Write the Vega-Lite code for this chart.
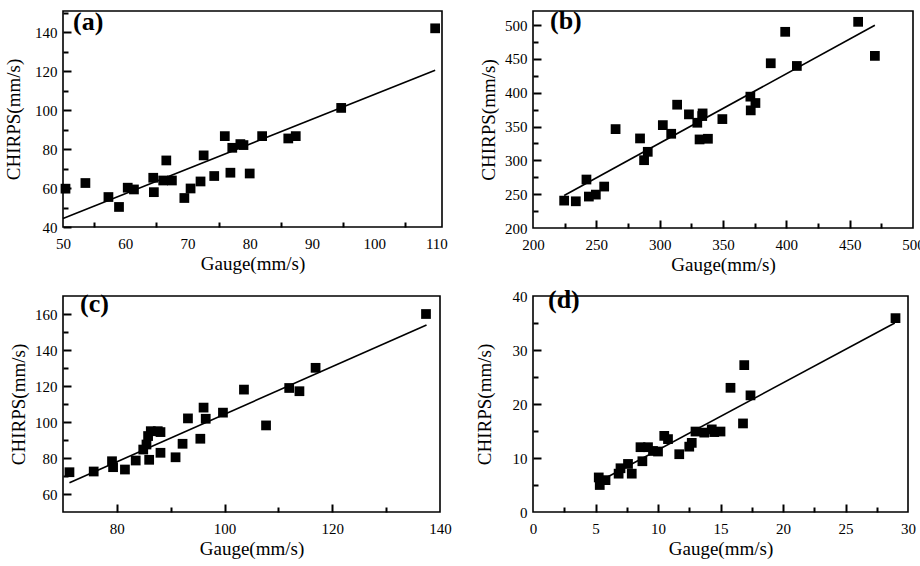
{
  "$schema": "https://vega.github.io/schema/vega-lite/v6.json",
  "padding": {"left": 3, "top": 7, "right": 5, "bottom": 2},
  "config": {
    "view": {"stroke": "black", "strokeWidth": 1.6},
    "axis": {"labelFont": "Liberation Serif", "titleFont": "Liberation Serif", "labelColor": "black", "titleColor": "black", "labelFontSize": 15, "titleFontSize": 19, "titleFontWeight": "normal", "grid": false, "labelFlush": false},
    "title": {"font": "Liberation Serif", "fontSize": 26, "fontWeight": "bold", "color": "black", "anchor": "start", "frame": "group", "offset": 0, "baseline": "alphabetic"}
  },
  "datasets": {
    "a": [
      {"gauge": 50.4, "chirps": 59.7}, {"gauge": 53.6, "chirps": 62.6}, {"gauge": 57.3, "chirps": 55.4}, {"gauge": 59.0, "chirps": 50.3},
      {"gauge": 60.4, "chirps": 60.2}, {"gauge": 61.4, "chirps": 59.3}, {"gauge": 64.5, "chirps": 65.3}, {"gauge": 64.6, "chirps": 57.9},
      {"gauge": 66.1, "chirps": 63.9}, {"gauge": 66.6, "chirps": 74.2}, {"gauge": 67.5, "chirps": 63.9}, {"gauge": 69.5, "chirps": 54.9},
      {"gauge": 70.5, "chirps": 59.8}, {"gauge": 72.1, "chirps": 63.4}, {"gauge": 72.6, "chirps": 76.8}, {"gauge": 74.3, "chirps": 66.2},
      {"gauge": 76.0, "chirps": 86.7}, {"gauge": 76.9, "chirps": 67.9}, {"gauge": 77.2, "chirps": 80.7}, {"gauge": 78.5, "chirps": 82.6},
      {"gauge": 79.0, "chirps": 82.1}, {"gauge": 80.0, "chirps": 67.5}, {"gauge": 82.0, "chirps": 86.7}, {"gauge": 86.2, "chirps": 85.5},
      {"gauge": 87.4, "chirps": 86.7}, {"gauge": 94.7, "chirps": 101.2}, {"gauge": 109.8, "chirps": 142.1}
    ],
    "a_fit": [{"gauge": 50, "chirps": 44.4}, {"gauge": 109.8, "chirps": 120.6}],
    "b": [
      {"gauge": 224.6, "chirps": 240.5}, {"gauge": 233.8, "chirps": 239.5}, {"gauge": 242.2, "chirps": 271.7}, {"gauge": 244.1, "chirps": 246.5},
      {"gauge": 249.6, "chirps": 249.4}, {"gauge": 256.2, "chirps": 261.3}, {"gauge": 265.2, "chirps": 346.3}, {"gauge": 284.5, "chirps": 332.5},
      {"gauge": 287.7, "chirps": 300.3}, {"gauge": 290.6, "chirps": 312.7}, {"gauge": 302.5, "chirps": 352.2}, {"gauge": 309.1, "chirps": 339.4},
      {"gauge": 313.8, "chirps": 382.4}, {"gauge": 323.1, "chirps": 368.1}, {"gauge": 329.7, "chirps": 355.7}, {"gauge": 331.5, "chirps": 331.0},
      {"gauge": 333.9, "chirps": 369.5}, {"gauge": 333.6, "chirps": 365.6}, {"gauge": 338.1, "chirps": 332.0}, {"gauge": 349.5, "chirps": 361.1},
      {"gauge": 371.6, "chirps": 394.3}, {"gauge": 371.9, "chirps": 374.0}, {"gauge": 375.6, "chirps": 384.9}, {"gauge": 387.7, "chirps": 443.7},
      {"gauge": 399.1, "chirps": 490.2}, {"gauge": 408.3, "chirps": 439.7}, {"gauge": 456.7, "chirps": 505.0}, {"gauge": 469.9, "chirps": 454.6}
    ],
    "b_fit": [{"gauge": 224.6, "chirps": 248}, {"gauge": 469.9, "chirps": 500}],
    "c": [
      {"gauge": 71.2, "chirps": 72.1}, {"gauge": 75.7, "chirps": 72.5}, {"gauge": 79.1, "chirps": 78.2}, {"gauge": 79.3, "chirps": 74.9},
      {"gauge": 81.5, "chirps": 73.6}, {"gauge": 83.5, "chirps": 78.6}, {"gauge": 84.9, "chirps": 84.7}, {"gauge": 85.5, "chirps": 87.5},
      {"gauge": 85.8, "chirps": 92.2}, {"gauge": 86.0, "chirps": 79.0}, {"gauge": 86.3, "chirps": 94.9}, {"gauge": 87.6, "chirps": 94.9},
      {"gauge": 88.1, "chirps": 94.4}, {"gauge": 88.1, "chirps": 82.9}, {"gauge": 90.9, "chirps": 80.4}, {"gauge": 92.2, "chirps": 87.9},
      {"gauge": 93.2, "chirps": 102.0}, {"gauge": 95.5, "chirps": 90.7}, {"gauge": 96.1, "chirps": 108.0}, {"gauge": 96.5, "chirps": 101.8},
      {"gauge": 99.7, "chirps": 105.2}, {"gauge": 103.6, "chirps": 118.0}, {"gauge": 107.7, "chirps": 98.1}, {"gauge": 112.0, "chirps": 118.9},
      {"gauge": 113.9, "chirps": 117.1}, {"gauge": 116.9, "chirps": 130.1}, {"gauge": 137.4, "chirps": 160.0}
    ],
    "c_fit": [{"gauge": 71.2, "chirps": 66.3}, {"gauge": 137.5, "chirps": 153.9}],
    "d": [
      {"gauge": 5.26, "chirps": 6.4}, {"gauge": 5.34, "chirps": 5.0}, {"gauge": 5.8, "chirps": 5.9}, {"gauge": 6.85, "chirps": 7.1},
      {"gauge": 7.0, "chirps": 8.1}, {"gauge": 7.6, "chirps": 8.9}, {"gauge": 7.9, "chirps": 7.1}, {"gauge": 8.6, "chirps": 12.0},
      {"gauge": 8.75, "chirps": 9.4}, {"gauge": 9.2, "chirps": 12.0}, {"gauge": 9.6, "chirps": 11.3}, {"gauge": 10.0, "chirps": 11.2},
      {"gauge": 10.5, "chirps": 14.1}, {"gauge": 10.8, "chirps": 13.5}, {"gauge": 11.7, "chirps": 10.7}, {"gauge": 12.5, "chirps": 12.1},
      {"gauge": 12.7, "chirps": 12.8}, {"gauge": 13.0, "chirps": 14.9}, {"gauge": 13.7, "chirps": 14.7}, {"gauge": 14.3, "chirps": 15.3},
      {"gauge": 14.5, "chirps": 14.8}, {"gauge": 15.0, "chirps": 14.9}, {"gauge": 15.8, "chirps": 23.0}, {"gauge": 16.8, "chirps": 16.4},
      {"gauge": 16.9, "chirps": 27.2}, {"gauge": 17.4, "chirps": 21.6}, {"gauge": 29.0, "chirps": 35.9}
    ],
    "d_fit": [{"gauge": 5.4, "chirps": 5.8}, {"gauge": 28.94, "chirps": 35.0}]
  },
  "columns": 2,
  "spacing": {"row": 11, "column": 21},
  "concat": [
    {
      "width": 379, "height": 216,
      "title": {"text": "(a)", "dx": 10, "dy": 28},
      "resolve": {"axis": {"x": "independent", "y": "independent"}},
      "layer": [
        {
          "data": {"name": "a"},
          "mark": {"type": "square", "filled": true, "color": "black", "size": 95, "opacity": 1},
          "encoding": {
            "x": {"field": "gauge", "type": "quantitative", "scale": {"domain": [50, 110.9], "nice": false, "zero": false},
                  "axis": {"orient": "bottom", "values": [50, 60, 70, 80, 90, 100, 110], "ticks": false, "domain": false, "labelPadding": 9, "title": "Gauge(mm/s)", "titlePadding": 3}},
            "y": {"field": "chirps", "type": "quantitative", "scale": {"domain": [40, 151], "nice": false, "zero": false},
                  "axis": {"orient": "left", "values": [40, 60, 80, 100, 120, 140], "ticks": false, "domain": false, "labelPadding": 6, "title": "CHIRPS(mm/s)", "titlePadding": 11}}
          }
        },
        {
          "data": {"name": "a_fit"},
          "mark": {"type": "line", "color": "black", "strokeWidth": 1.6},
          "encoding": {
            "x": {"field": "gauge", "type": "quantitative", "axis": {"orient": "top", "offset": -216, "values": [55, 65, 75, 85, 95, 105], "tickSize": 5, "tickColor": "black", "tickWidth": 2, "domain": false, "labels": false, "title": null}},
            "y": {"field": "chirps", "type": "quantitative", "axis": {"orient": "right", "offset": -379, "values": [40, 60, 80, 100, 120, 140], "tickSize": 8, "tickColor": "black", "tickWidth": 2, "domain": false, "labels": false, "title": null}}
          }
        },
        {
          "data": {"name": "a_fit"},
          "mark": {"type": "line", "opacity": 0},
          "encoding": {
            "x": {"field": "gauge", "type": "quantitative", "axis": null},
            "y": {"field": "chirps", "type": "quantitative", "axis": {"orient": "right", "offset": -379, "values": [50, 70, 90, 110, 130, 150], "tickSize": 5, "tickColor": "black", "tickWidth": 2, "domain": false, "labels": false, "title": null}}
          }
        }
      ]
    },
    {
      "width": 380, "height": 217,
      "title": {"text": "(b)", "dx": 17, "dy": 27},
      "resolve": {"axis": {"x": "independent", "y": "independent"}},
      "layer": [
        {
          "data": {"name": "b"},
          "mark": {"type": "square", "filled": true, "color": "black", "size": 95, "opacity": 1},
          "encoding": {
            "x": {"field": "gauge", "type": "quantitative", "scale": {"domain": [200, 500], "nice": false, "zero": false},
                  "axis": {"orient": "bottom", "values": [200, 250, 300, 350, 400, 450, 500], "ticks": false, "domain": false, "labelPadding": 9, "title": "Gauge(mm/s)", "titlePadding": 3}},
            "y": {"field": "chirps", "type": "quantitative", "scale": {"domain": [200, 521], "nice": false, "zero": false},
                  "axis": {"orient": "left", "values": [200, 250, 300, 350, 400, 450, 500], "ticks": false, "domain": false, "labelPadding": 6, "title": "CHIRPS(mm/s)", "titlePadding": 6}}
          }
        },
        {
          "data": {"name": "b_fit"},
          "mark": {"type": "line", "color": "black", "strokeWidth": 1.6},
          "encoding": {
            "x": {"field": "gauge", "type": "quantitative", "axis": {"orient": "top", "offset": -217, "values": [250, 300, 350, 400, 450], "tickSize": 8, "tickColor": "black", "tickWidth": 2, "domain": false, "labels": false, "title": null}},
            "y": {"field": "chirps", "type": "quantitative", "axis": {"orient": "right", "offset": -380, "values": [250, 300, 350, 400, 450, 500], "tickSize": 8, "tickColor": "black", "tickWidth": 2, "domain": false, "labels": false, "title": null}}
          }
        },
        {
          "data": {"name": "b_fit"},
          "mark": {"type": "line", "opacity": 0},
          "encoding": {
            "x": {"field": "gauge", "type": "quantitative", "axis": {"orient": "top", "offset": -217, "values": [225, 275, 325, 375, 425, 475], "tickSize": 5, "tickColor": "black", "tickWidth": 2, "domain": false, "labels": false, "title": null}},
            "y": {"field": "chirps", "type": "quantitative", "axis": {"orient": "right", "offset": -380, "values": [225, 275, 325, 375, 425, 475], "tickSize": 5, "tickColor": "black", "tickWidth": 2, "domain": false, "labels": false, "title": null}}
          }
        }
      ]
    },
    {
      "width": 377, "height": 216,
      "title": {"text": "(c)", "dx": 17, "dy": 25},
      "resolve": {"axis": {"x": "independent", "y": "independent"}},
      "layer": [
        {
          "data": {"name": "c"},
          "mark": {"type": "square", "filled": true, "color": "black", "size": 95, "opacity": 1},
          "encoding": {
            "x": {"field": "gauge", "type": "quantitative", "scale": {"domain": [70, 140], "nice": false, "zero": false},
                  "axis": {"orient": "bottom", "values": [80, 100, 120, 140], "ticks": false, "domain": false, "labelPadding": 9, "title": "Gauge(mm/s)", "titlePadding": 3}},
            "y": {"field": "chirps", "type": "quantitative", "scale": {"domain": [50, 170], "nice": false, "zero": false},
                  "axis": {"orient": "left", "values": [60, 80, 100, 120, 140, 160], "ticks": false, "domain": false, "labelPadding": 6, "title": "CHIRPS(mm/s)", "titlePadding": 6}}
          }
        },
        {
          "data": {"name": "c_fit"},
          "mark": {"type": "line", "color": "black", "strokeWidth": 1.6},
          "encoding": {
            "x": {"field": "gauge", "type": "quantitative", "axis": {"orient": "top", "offset": -216, "values": [80, 100, 120], "tickSize": 8, "tickColor": "black", "tickWidth": 2, "domain": false, "labels": false, "title": null}},
            "y": {"field": "chirps", "type": "quantitative", "axis": {"orient": "right", "offset": -377, "values": [60, 80, 100, 120, 140, 160], "tickSize": 8, "tickColor": "black", "tickWidth": 2, "domain": false, "labels": false, "title": null}}
          }
        },
        {
          "data": {"name": "c_fit"},
          "mark": {"type": "line", "opacity": 0},
          "encoding": {
            "x": {"field": "gauge", "type": "quantitative", "axis": {"orient": "top", "offset": -216, "values": [90, 110, 130], "tickSize": 5, "tickColor": "black", "tickWidth": 2, "domain": false, "labels": false, "title": null}},
            "y": {"field": "chirps", "type": "quantitative", "axis": {"orient": "right", "offset": -377, "values": [70, 90, 110, 130, 150], "tickSize": 5, "tickColor": "black", "tickWidth": 2, "domain": false, "labels": false, "title": null}}
          }
        }
      ]
    },
    {
      "width": 375, "height": 216,
      "title": {"text": "(d)", "dx": 15, "dy": 28},
      "resolve": {"axis": {"x": "independent", "y": "independent"}},
      "layer": [
        {
          "data": {"name": "d"},
          "mark": {"type": "square", "filled": true, "color": "black", "size": 95, "opacity": 1},
          "encoding": {
            "x": {"field": "gauge", "type": "quantitative", "scale": {"domain": [0, 30], "nice": false, "zero": false},
                  "axis": {"orient": "bottom", "values": [0, 5, 10, 15, 20, 25, 30], "ticks": false, "domain": false, "labelPadding": 9, "title": "Gauge(mm/s)", "titlePadding": 3}},
            "y": {"field": "chirps", "type": "quantitative", "scale": {"domain": [0, 40], "nice": false, "zero": false},
                  "axis": {"orient": "left", "values": [0, 10, 20, 30, 40], "ticks": false, "domain": false, "labelPadding": 6, "title": "CHIRPS(mm/s)", "titlePadding": 18}}
          }
        },
        {
          "data": {"name": "d_fit"},
          "mark": {"type": "line", "color": "black", "strokeWidth": 1.6},
          "encoding": {
            "x": {"field": "gauge", "type": "quantitative", "axis": {"orient": "top", "offset": -216, "values": [5, 10, 15, 20, 25], "tickSize": 8, "tickColor": "black", "tickWidth": 2, "domain": false, "labels": false, "title": null}},
            "y": {"field": "chirps", "type": "quantitative", "axis": {"orient": "right", "offset": -375, "values": [10, 20, 30], "tickSize": 8, "tickColor": "black", "tickWidth": 2, "domain": false, "labels": false, "title": null}}
          }
        },
        {
          "data": {"name": "d_fit"},
          "mark": {"type": "line", "opacity": 0},
          "encoding": {
            "x": {"field": "gauge", "type": "quantitative", "axis": {"orient": "top", "offset": -216, "values": [2.5, 7.5, 12.5, 17.5, 22.5, 27.5], "tickSize": 5, "tickColor": "black", "tickWidth": 2, "domain": false, "labels": false, "title": null}},
            "y": {"field": "chirps", "type": "quantitative", "axis": {"orient": "right", "offset": -375, "values": [5, 15, 25, 35], "tickSize": 5, "tickColor": "black", "tickWidth": 2, "domain": false, "labels": false, "title": null}}
          }
        }
      ]
    }
  ]
}
